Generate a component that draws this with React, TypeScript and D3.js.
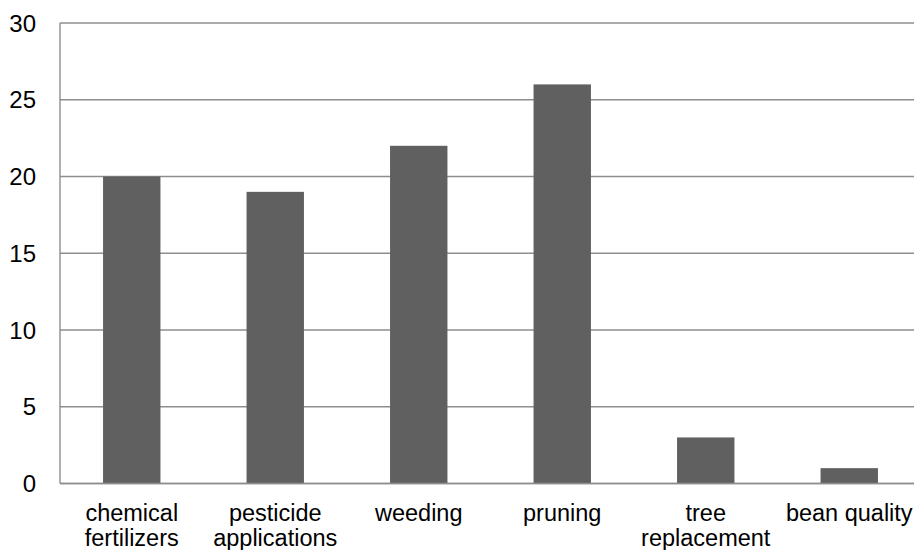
import React from "react";
import * as d3 from "d3";

const categories: string[][] = [
  ["chemical", "fertilizers"],
  ["pesticide", "applications"],
  ["weeding"],
  ["pruning"],
  ["tree", "replacement"],
  ["bean quality"],
];
const values: number[] = [20, 19, 22, 26, 3, 1];
const yTicks: number[] = [0, 5, 10, 15, 20, 25, 30];

const W = 914;
const H = 550;
const left = 60;
const right = 921;
const top = 23;
const bottom = 483.5;
const font = "Liberation Sans, Arial, sans-serif";

export default function App() {
  const keys = categories.map((c) => c.join(" "));
  const x = d3
    .scaleBand<string>()
    .domain(keys)
    .range([left, right])
    .paddingInner(0.6)
    .paddingOuter(0.3);
  const y = d3.scaleLinear().domain([0, 30]).range([bottom, top]);

  return (
    <svg
      width={W}
      height={H}
      style={{ position: "absolute", left: 0, top: 0, background: "#fff" }}
    >
      {yTicks.map((t) => (
        <g key={t}>
          <line
            x1={left}
            x2={W}
            y1={y(t)}
            y2={y(t)}
            stroke="#8e8e8e"
            strokeWidth={1.4}
          />
          <text
            x={36}
            y={y(t)}
            textAnchor="end"
            dominantBaseline="central"
            fontFamily={font}
            fontSize={24}
            fill="#000"
          >
            {t}
          </text>
        </g>
      ))}
      <line x1={left} x2={left} y1={top} y2={bottom} stroke="#8e8e8e" strokeWidth={1.4} />
      {values.map((v, i) => (
        <rect
          key={keys[i]}
          x={x(keys[i])}
          y={y(v)}
          width={x.bandwidth()}
          height={y(0) - y(v)}
          fill="#606060"
        />
      ))}
      <line x1={left} x2={W} y1={y(0)} y2={y(0)} stroke="#8e8e8e" strokeWidth={1.4} />
      {categories.map((lines, i) => {
        const cx = (x(keys[i]) as number) + x.bandwidth() / 2;
        return (
          <text
            key={keys[i]}
            textAnchor="middle"
            fontFamily={font}
            fontSize={23.5}
            fill="#000"
          >
            {lines.map((ln, j) => (
              <tspan key={j} x={cx} y={520.5 + j * 25.5}>
                {ln}
              </tspan>
            ))}
          </text>
        );
      })}
    </svg>
  );
}
